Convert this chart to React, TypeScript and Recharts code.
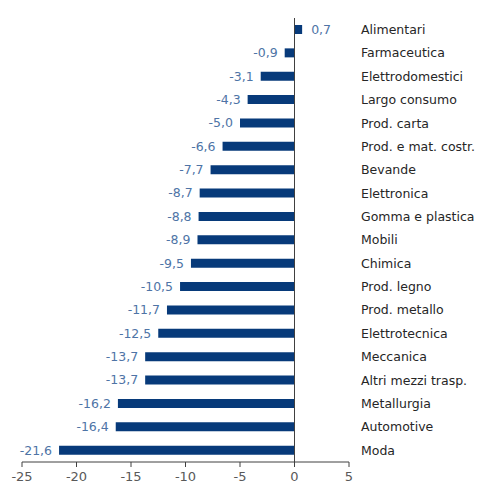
import React from "react";
import { BarChart, Bar, XAxis, YAxis, ReferenceLine, LabelList } from "recharts";

const categories = [
  "Alimentari", "Farmaceutica", "Elettrodomestici", "Largo consumo", "Prod. carta",
  "Prod. e mat. costr.", "Bevande", "Elettronica", "Gomma e plastica", "Mobili",
  "Chimica", "Prod. legno", "Prod. metallo", "Elettrotecnica", "Meccanica",
  "Altri mezzi trasp.", "Metallurgia", "Automotive", "Moda",
];
const values = [0.7, -0.9, -3.1, -4.3, -5.0, -6.6, -7.7, -8.7, -8.8, -8.9, -9.5, -10.5, -11.7, -12.5, -13.7, -13.7, -16.2, -16.4, -21.6];
const xTicks = [-25, -20, -15, -10, -5, 0, 5];

const data = categories.map((c, i) => ({ name: c, value: values[i] }));

const FONT = "'DejaVu Sans', sans-serif";

const fmt = (v: number) => v.toFixed(1).replace(".", ",");

const ValueLabel = (props: any) => {
  const { x, y, width, height, value } = props;
  const v = Number(value);
  const cy = y + height / 2;
  const left = Math.min(x, x + width);
  const right = Math.max(x, x + width);
  if (v >= 0) {
    return (
      <text x={right + 9} y={cy} dy="0.35em" textAnchor="start" fill="#4E74A6" fontSize={12.5} fontFamily={FONT}>
        {fmt(v)}
      </text>
    );
  }
  return (
    <text x={left - 7} y={cy} dy="0.35em" textAnchor="end" fill="#4E74A6" fontSize={12.5} fontFamily={FONT}>
      {fmt(v)}
    </text>
  );
};

const CatTick = (props: any) => {
  const { x, y, payload } = props;
  return (
    <text x={x + 4} y={y} dy="0.35em" textAnchor="start" fill="#262626" fontSize={12.5} fontFamily={FONT}>
      {payload.value}
    </text>
  );
};

export default function App() {
  return (
    <div style={{ position: "absolute", left: 0, top: 0, background: "#fff" }}>
      <BarChart
        width={482}
        height={487}
        data={data}
        layout="vertical"
        margin={{ top: 18, right: 0, bottom: 0, left: 22 }}
        barCategoryGap={0}
      >
        <XAxis
          type="number"
          domain={[-25, 5]}
          ticks={xTicks}
          allowDataOverflow
          height={25}
          axisLine={{ stroke: "#404040" }}
          tickLine={{ stroke: "#404040" }}
          tickSize={5}
          tickMargin={5}
          tick={{ fill: "#595959", fontSize: 13, fontFamily: FONT }}
          interval={0}
        />
        <YAxis
          type="category"
          dataKey="name"
          orientation="right"
          width={133}
          axisLine={false}
          tickLine={false}
          tick={<CatTick />}
          interval={0}
        />
        <ReferenceLine x={0} stroke="#404040" strokeWidth={1} />
        <Bar dataKey="value" fill="#073A7A" barSize={9} isAnimationActive={false}>
          <LabelList dataKey="value" content={<ValueLabel />} />
        </Bar>
      </BarChart>
    </div>
  );
}
